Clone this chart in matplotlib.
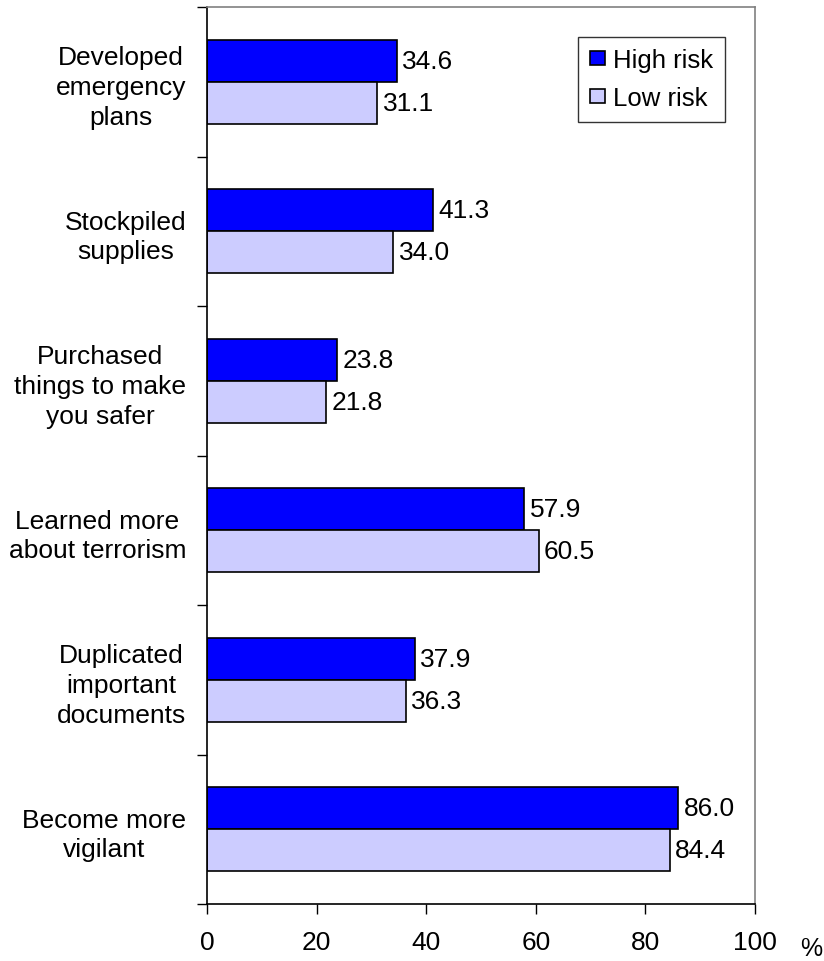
import matplotlib.pyplot as plt
import matplotlib.ticker as ticker
import numpy as np

# data
categories = [
    "Developed\nemergency\nplans",
    "Stockpiled\nsupplies",
    "Purchased\nthings to make\nyou safer",
    "Learned more\nabout terrorism",
    "Duplicated\nimportant\ndocuments",
    "Become more\nvigilant",
]
high_risk = [34.6, 41.3, 23.8, 57.9, 37.9, 86.0]
low_risk = [31.1, 34.0, 21.8, 60.5, 36.3, 84.4]
x_ticks = [0, 20, 40, 60, 80, 100]

HIGH_COLOR = "#0000FF"
LOW_COLOR = "#CCCCFF"
FS = 19

plt.rcParams.update({
    "font.family": ["Liberation Sans", "DejaVu Sans"],
    "font.size": FS,
})

fig = plt.figure(figsize=(8.24, 9.62), dpi=100)
ax = fig.add_axes([207 / 824, 57 / 962, 548 / 824, 897 / 962])

y = np.arange(len(categories))
h = 0.281

ax.barh(y - h / 2, high_risk, height=h, color=HIGH_COLOR,
        edgecolor="black", linewidth=1.2, label="High risk")
ax.barh(y + h / 2, low_risk, height=h, color=LOW_COLOR,
        edgecolor="black", linewidth=1.2, label="Low risk")

for i in range(len(categories)):
    ax.text(high_risk[i] + 1.0, y[i] - h / 2, f"{high_risk[i]:.1f}",
            va="center", ha="left", fontsize=FS)
    ax.text(low_risk[i] + 1.0, y[i] + h / 2, f"{low_risk[i]:.1f}",
            va="center", ha="left", fontsize=FS)

ax.set_xlim(0, 100)
ax.set_ylim(len(categories) - 0.5, -0.5)

# x axis
ax.set_xticks(x_ticks)
ax.set_xticklabels([str(t) for t in x_ticks])
ax.tick_params(axis="x", direction="out", length=7, width=1, pad=12,
               labelsize=FS)

# y axis: ticks at boundaries, labels at centres
ax.yaxis.set_major_locator(ticker.FixedLocator(np.arange(-0.5, len(categories), 1.0)))
ax.yaxis.set_major_formatter(ticker.NullFormatter())
ax.yaxis.set_minor_locator(ticker.FixedLocator(y))
ax.yaxis.set_minor_formatter(ticker.FixedFormatter(categories))
ax.tick_params(axis="y", which="major", direction="out", length=7, width=1)
ax.tick_params(axis="y", which="minor", length=0, pad=15, labelsize=FS)
for lbl in ax.get_yticklabels(minor=True):
    lbl.set_multialignment("center")
    lbl.set_linespacing(1.3)

# spines
ax.spines["left"].set_color("black")
ax.spines["bottom"].set_color("black")
ax.spines["top"].set_color("#808080")
ax.spines["right"].set_color("#808080")
for s in ax.spines.values():
    s.set_linewidth(1.2)

leg = ax.legend(loc="upper right", bbox_to_anchor=(0.945, 0.967),
                borderaxespad=0, frameon=True, fancybox=False,
                edgecolor="black", fontsize=18.5, handlelength=0.6,
                handleheight=0.45, handletextpad=0.3, labelspacing=0.55,
                borderpad=0.45)
leg.get_frame().set_linewidth(1.0)

fig.text(811 / 824, 1 - 949 / 962, "%", ha="center", va="center", fontsize=18)

fig.savefig("out.png", dpi=100, facecolor="white")
